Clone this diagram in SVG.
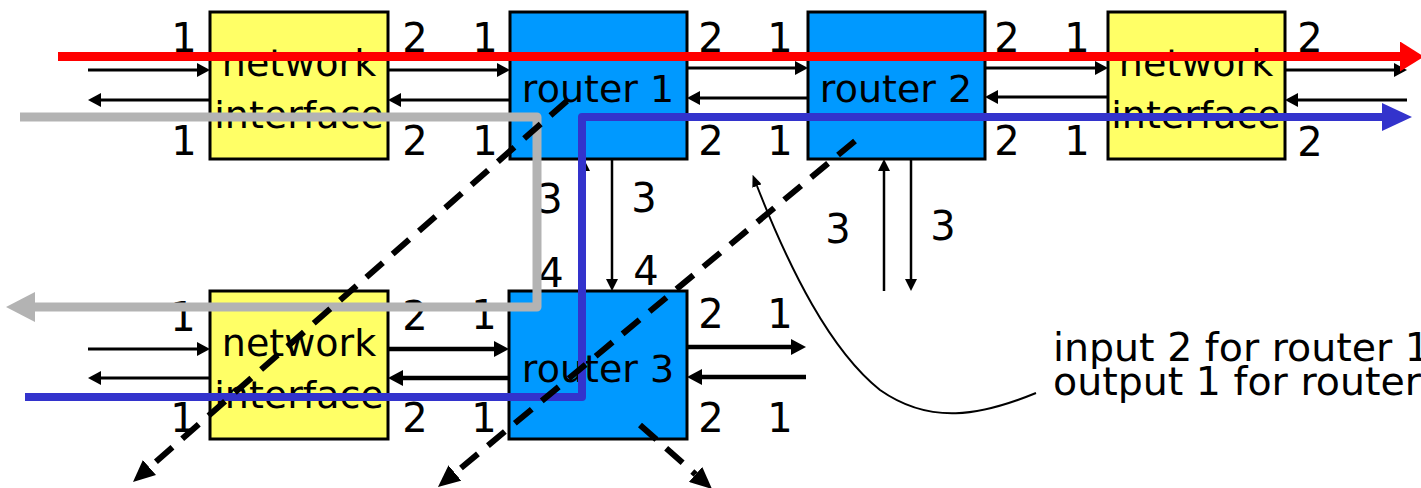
<svg xmlns="http://www.w3.org/2000/svg" width="1421" height="488" viewBox="0 0 1421 488">
<style>
.ni{fill:#FFFF66;stroke:#000;stroke-width:3}
.rt{fill:#0099FF;stroke:#000;stroke-width:3}
.nl{font-family:"DejaVu Sans",sans-serif;font-size:38px;fill:#000;text-anchor:middle}
.pl{font-family:"DejaVu Sans",sans-serif;font-size:40px;fill:#000;text-anchor:middle}
.note{font-family:"DejaVu Sans",sans-serif;font-size:39.5px;fill:#000}
.th{stroke:#000;stroke-width:3;fill:none;marker-end:url(#a)}
.tk{stroke:#000;stroke-width:4.5;fill:none;marker-end:url(#ak)}
.vt{stroke:#000;stroke-width:2.5;fill:none;marker-end:url(#av)}
.dash{stroke:#000;stroke-width:6;stroke-dasharray:22 13;fill:none;marker-end:url(#ad)}
</style>
<defs>
<marker id="a" markerUnits="userSpaceOnUse" markerWidth="13" markerHeight="14" refX="0" refY="7" orient="auto"><path d="M0,0 L13,7 L0,14 z" fill="#000"/></marker>
<marker id="ak" markerUnits="userSpaceOnUse" markerWidth="15" markerHeight="16" refX="0" refY="8" orient="auto"><path d="M0,0 L15,8 L0,16 z" fill="#000"/></marker>
<marker id="av" markerUnits="userSpaceOnUse" markerWidth="12" markerHeight="12" refX="0" refY="6" orient="auto"><path d="M0,0 L12,6 L0,12 z" fill="#000"/></marker>
<marker id="ad" markerUnits="userSpaceOnUse" markerWidth="22" markerHeight="20" refX="0" refY="10" orient="auto"><path d="M0,0 L22,10 L0,20 z" fill="#000"/></marker>
<marker id="ac" markerUnits="userSpaceOnUse" markerWidth="12" markerHeight="10" refX="0" refY="5" orient="auto"><path d="M0,0 L12,5 L0,10 z" fill="#000"/></marker>
<marker id="hr" markerUnits="userSpaceOnUse" markerWidth="24" markerHeight="30" refX="0" refY="15" orient="auto"><path d="M0,0 L24,15 L0,30 z" fill="#FF0000"/></marker>
<marker id="hb" markerUnits="userSpaceOnUse" markerWidth="30" markerHeight="30" refX="0" refY="15" orient="auto"><path d="M0,1 L30,15 L0,29 z" fill="#3333CC"/></marker>
<marker id="hg" markerUnits="userSpaceOnUse" markerWidth="29" markerHeight="30" refX="0" refY="15" orient="auto"><path d="M0,0 L29,15 L0,30 z" fill="#B3B3B3"/></marker>
</defs>

<g id="ni-top-left">
<rect class="ni" x="210" y="12" width="178" height="147"/>
<text class="nl" x="299" y="76">network</text>
<text class="nl" x="299" y="128">interface</text>
</g>
<g id="router1">
<rect class="rt" x="510" y="12" width="177" height="147"/>
<text class="nl" x="598" y="102">router 1</text>
</g>
<g id="router2">
<rect class="rt" x="808" y="12" width="177" height="147"/>
<text class="nl" x="896" y="102">router 2</text>
</g>
<g id="ni-top-right">
<rect class="ni" x="1108" y="12" width="177" height="147"/>
<text class="nl" x="1196" y="76">network</text>
<text class="nl" x="1196" y="128">interface</text>
</g>
<g id="ni-bottom-left">
<rect class="ni" x="210" y="291" width="178" height="148"/>
<text class="nl" x="299" y="356">network</text>
<text class="nl" x="299" y="408">interface</text>
</g>
<g id="router3">
<rect class="rt" x="509" y="291" width="178" height="148"/>
<text class="nl" x="598" y="382">router 3</text>
</g>

<g id="port-labels">
<text class="pl" x="184" y="52">1</text>
<text class="pl" x="415" y="52">2</text>
<text class="pl" x="485" y="52">1</text>
<text class="pl" x="711" y="52">2</text>
<text class="pl" x="780" y="52">1</text>
<text class="pl" x="1007" y="52">2</text>
<text class="pl" x="1077" y="52">1</text>
<text class="pl" x="1310" y="52">2</text>
<text class="pl" x="184" y="155">1</text>
<text class="pl" x="415" y="155">2</text>
<text class="pl" x="485" y="155">1</text>
<text class="pl" x="711" y="155">2</text>
<text class="pl" x="780" y="155">1</text>
<text class="pl" x="1007" y="155">2</text>
<text class="pl" x="1077" y="155">1</text>
<text class="pl" x="1310" y="156">2</text>
<text class="pl" x="550" y="213">3</text>
<text class="pl" x="644" y="212">3</text>
<text class="pl" x="551" y="287">4</text>
<text class="pl" x="646" y="285">4</text>
<text class="pl" x="838" y="243">3</text>
<text class="pl" x="943" y="240">3</text>
<text class="pl" x="183" y="331">1</text>
<text class="pl" x="415" y="330">2</text>
<text class="pl" x="484" y="329">1</text>
<text class="pl" x="711" y="328">2</text>
<text class="pl" x="780" y="328">1</text>
<text class="pl" x="183" y="432">1</text>
<text class="pl" x="415" y="432">2</text>
<text class="pl" x="484" y="432">1</text>
<text class="pl" x="711" y="432">2</text>
<text class="pl" x="780" y="432">1</text>
</g>

<g id="note">
<text class="note" x="1053" y="361">input 2 for router 1</text>
<text class="note" x="1053" y="395">output 1 for router</text>
</g>

<g id="connectors">
<line class="th" x1="88" y1="70" x2="197" y2="70"/>
<line class="th" x1="210" y1="100" x2="101" y2="100"/>
<line class="th" x1="388" y1="70" x2="497" y2="70"/>
<line class="th" x1="510" y1="100" x2="401" y2="100"/>
<line class="th" x1="687" y1="68" x2="795" y2="68"/>
<line class="th" x1="808" y1="98" x2="700" y2="98"/>
<line class="th" x1="985" y1="68" x2="1095" y2="68"/>
<line class="th" x1="1108" y1="97" x2="998" y2="97"/>
<line class="th" x1="1285" y1="70" x2="1394" y2="70"/>
<line class="th" x1="1407" y1="100" x2="1298" y2="100"/>
<line class="vt" x1="612" y1="160" x2="612" y2="279"/>
<line class="vt" x1="584" y1="290" x2="584" y2="171"/>
<line class="vt" x1="884" y1="291" x2="884" y2="171"/>
<line class="vt" x1="911" y1="160" x2="911" y2="279"/>
<line class="th" x1="88" y1="349" x2="197" y2="349"/>
<line class="th" x1="210" y1="378" x2="101" y2="378"/>
<line class="tk" x1="388" y1="349" x2="494" y2="349"/>
<line class="tk" x1="509" y1="378" x2="403" y2="378"/>
<line class="tk" x1="687" y1="347" x2="791" y2="347"/>
<line class="tk" x1="806" y1="377" x2="702" y2="377"/>
<path d="M1036,393 C980,416 930,425 880,390 C830,350 790,270 757,186" stroke="#000" stroke-width="2" fill="none" marker-end="url(#ac)"/>
<path d="M20,117 H537 V307 H35" stroke="#B3B3B3" stroke-width="9" fill="none" stroke-linejoin="round" marker-end="url(#hg)"/>
<path d="M25,397 H582 V117 H1382" stroke="#3333CC" stroke-width="8" fill="none" stroke-linejoin="round" marker-end="url(#hb)"/>
<path d="M58,56.5 H1400" stroke="#FF0000" stroke-width="9" fill="none" marker-end="url(#hr)"/>
<line class="dash" x1="567" y1="101" x2="149.5" y2="467.5"/>
<line class="dash" x1="855" y1="141" x2="454.9" y2="473"/>
<line class="dash" x1="640" y1="425" x2="695.6" y2="474.4"/>
</g>
</svg>
